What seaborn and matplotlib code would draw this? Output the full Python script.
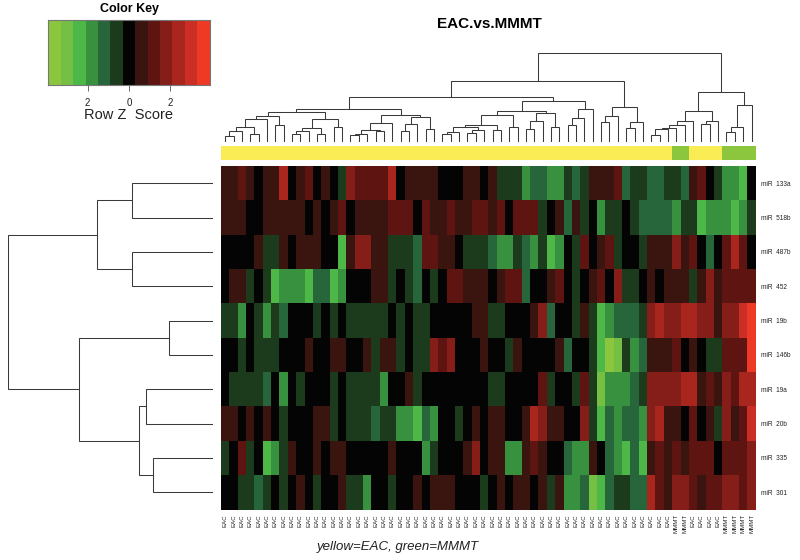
import matplotlib
matplotlib.use('Agg')
import matplotlib.pyplot as plt
from matplotlib.colors import ListedColormap
import numpy as np
import pandas as pd
import seaborn as sns

mirnas = ['miR  133a', 'miR  518b', 'miR  487b', 'miR  452', 'miR  19b',
          'miR  146b', 'miR  19a', 'miR  20b', 'miR  335', 'miR  301']

# colour level of each cell, -6 (light green) .. 6 (bright red)
miR_133a = [1,1,2,1,0,1,1,4,0,1,2,0,1,0,-1,3,2,2,2,2,4,0,1,1,1,1,0,0,0,1,1,0,
            1,-1,-1,-1,-3,-2,-2,-3,-3,-1,-2,-1,1,1,1,2,-2,-1,-1,-2,-2,-1,-1,-2,1,2,0,-1,-3,-3,-4,0]
miR_518b = [1,1,1,0,0,1,1,1,1,1,0,1,0,1,2,0,1,1,1,1,2,2,2,0,2,1,1,2,1,1,2,2,
            1,2,0,2,2,2,-1,0,1,-2,1,-1,0,-3,-1,-1,0,-1,-2,-2,-2,-2,-3,-1,-1,-4,-3,-3,-3,-4,-3,-1]
miR_487b = [0,0,0,0,1,-1,-1,1,0,1,1,1,0,0,-4,1,3,3,1,1,-1,-1,-1,-2,2,2,1,1,0,-1,-1,-1,
            -2,-3,-3,-1,-2,-3,-1,-4,-3,0,-1,2,0,1,2,-1,0,0,-1,1,1,1,3,1,2,0,-2,0,2,4,2,0]
miR_452 = [0,1,1,-1,0,-1,-4,-3,-3,-3,-4,-2,-2,-4,-3,0,0,0,1,1,-1,0,-1,-2,0,-1,0,2,2,1,1,1,
           0,1,2,2,-2,0,0,1,2,0,-1,0,1,2,0,3,-1,-1,0,1,0,1,1,1,-1,1,3,1,2,2,2,2]
miR_19b = [-1,-1,-3,0,-1,-3,-1,-2,0,0,0,-1,0,-1,0,-1,-1,-1,-1,-1,0,-1,0,-1,-1,0,0,0,0,0,1,1,
           -1,-1,0,0,0,1,3,-2,0,0,-1,1,-1,-4,-3,-2,-2,-2,-1,3,4,3,3,4,4,3,3,1,3,3,5,6]
miR_146b = [0,0,-1,0,-1,-1,-1,0,0,0,1,0,0,1,1,0,0,1,-1,1,1,-1,0,-1,-1,3,2,3,0,0,0,1,
            0,0,-1,1,0,0,0,0,1,-2,0,0,-1,-4,-6,-5,-1,-3,-2,1,1,1,2,0,1,0,-1,-1,2,2,2,6]
miR_19a = [0,-1,-1,-1,-1,-2,0,-3,0,-1,0,0,0,-1,0,-1,-1,-1,-1,-3,0,0,1,-1,0,0,0,0,0,0,0,0,
           -1,-1,0,0,0,0,2,-1,0,0,-1,2,-1,-5,-3,-3,-3,-2,-1,3,3,3,3,4,4,1,2,1,3,2,4,4]
miR_20b = [1,1,0,1,0,1,0,-1,0,0,0,1,1,-1,0,-1,-1,-1,-2,-1,-1,-3,-3,-4,-2,-3,0,0,-1,0,1,0,
           1,1,0,0,1,4,3,1,1,0,0,3,-1,-4,-2,-3,-2,-2,-3,3,4,1,1,0,2,0,1,-1,3,1,2,5]
miR_335 = [-1,0,2,-1,0,-4,-3,-1,1,0,0,1,0,1,1,0,0,0,0,0,1,0,0,0,-3,-1,0,0,0,1,3,0,
           1,1,-3,-3,1,2,1,0,0,-2,-3,-3,1,0,-2,-3,-4,-2,-4,1,2,1,2,1,2,2,2,0,2,2,2,3]
miR_301 = [0,0,-1,-1,-2,-1,0,-1,0,1,0,-1,0,0,1,-1,-1,-3,0,0,-1,0,0,1,0,1,1,1,0,0,0,-1,
           0,1,0,1,1,0,1,-1,1,-3,-3,-2,-5,-4,-2,-1,-1,-2,-2,4,2,1,3,3,2,1,2,2,3,3,2,3]

# sample labels, 1 = MMMT, 0 = EAC
sample_group = [0]*54 + [1]*2 + [0]*4 + [1]*4
group_names = ['EAC', 'MMMT']

key_colors = ['#8CC63F', '#75C044', '#4DB748', '#38913F', '#27663A', '#1C3A1C', '#040404',
              '#3A1510', '#5E1512', '#851D18', '#A9261F', '#CB2E25', '#EE3A24']
bar_colors = ['#F9EC55', '#8CC63F']
key_z = [-3.6, -3.0, -2.4, -1.8, -1.2, -0.6, 0.0, 0.6, 1.2, 1.8, 2.4, 3.0, 3.6]
key_ticks = [-2, 0, 2]

# dendrograms as (merge height, left child, right child), 0 is a leaf
col_a = (26, (23, (15, (11, (6, 0, 0), 0), (8.7, 0, 0)), 0), (17, 0, 0))
col_b = (23, (14, (11, (8.7, 0, 0), 0), (8.7, 0, 0)), (15.7, 0, 0))
col_c = (19, (12, (8.7, (7, 0, 0), 0), (11, 0, 0)), 0)
col_d = (25, (18.7, (11, 0, 0), 0), (13.7, 0, 0))
col_e = (15.7, (10.7, (8.7, 0, 0), 0), (12.7, (9.7, 0, 0), 0))
col_f = (27, (17.7, col_e, (12, 0, 0)), (15, 0, 0))
col_g = (29, (21, (13, 0, 0), 0), (15.7, 0, 0))
col_h = (33, (24, (17, 0, 0), 0), 0)
col_i = (35.7, (26.7, (20, 0, 0), 0), (20.3, (14.7, 0, 0), 0))
col_j = (21.3, (17.3, (14.7, (13, (7.3, 0, 0), 0), 0), 0), 0)
col_k = (21.7, (18.7, 0, 0), 0)
col_l = (37, (15.3, (10.7, 0, 0), 0), 0)
col_left = (61, (45, (33, (30.7, col_a, col_b), (27, col_c, col_d)),
                 (41, (31, col_f, col_g), col_h)), col_i)
col_tree = (89, col_left, (50, (31, col_j, col_k), col_l))
row_tree = (205, (116, (81, 0, 0), (81.7, 0, 0)),
            (134.7, (44, 0, 0), (74.3, (67.7, 0, 0), (60, 0, 0))))

df = pd.DataFrame([miR_133a, miR_518b, miR_487b, miR_452, miR_19b,
                   miR_146b, miR_19a, miR_20b, miR_335, miR_301], index=mirnas)

sns.set_theme(style='white')
plt.rcParams['font.family'] = ['Liberation Sans', 'DejaVu Sans']
plt.rcParams['text.color'] = 'black'

W, H = 800, 560
fig = plt.figure(figsize=(8, 5.6), dpi=100)


def px_axes(x0, y0, x1, y1):
    # axes from pixel box, y measured from the top
    return fig.add_axes([x0 / W, 1 - y1 / H, (x1 - x0) / W, (y1 - y0) / H])


def draw_tree(ax, node, next_leaf, horizontal):
    if node == 0:
        next_leaf[0] += 1
        return next_leaf[0] - 0.5, 0
    h, left, right = node
    p1, h1 = draw_tree(ax, left, next_leaf, horizontal)
    p2, h2 = draw_tree(ax, right, next_leaf, horizontal)
    ps, hs = [p1, p1, p2, p2], [h1, h, h, h2]
    if horizontal:
        ax.plot(hs, ps, color='#3a3a3a', lw=0.75, solid_joinstyle='miter')
    else:
        ax.plot(ps, hs, color='#3a3a3a', lw=0.75, solid_joinstyle='miter')
    return (p1 + p2) / 2, h


# main heatmap
ax = px_axes(221, 166, 755.7, 509.5)
labels = [group_names[g] for g in sample_group]
sns.heatmap(df, ax=ax, cmap=ListedColormap(key_colors), vmin=-6, vmax=6, cbar=False,
            xticklabels=labels, yticklabels=mirnas)
ax.yaxis.tick_right()
ax.tick_params(axis='y', length=0, pad=3.5, labelsize=4.7, labelrotation=0, labelcolor='#222222')
ax.tick_params(axis='x', length=0, pad=3.5, labelsize=4.4, labelrotation=90, labelcolor='#222222')

# sample colour bar
ax_bar = px_axes(221, 145.7, 755.7, 160)
sns.heatmap(np.array([sample_group]), ax=ax_bar, cmap=ListedColormap(bar_colors),
            vmin=0, vmax=1, cbar=False, xticklabels=False, yticklabels=False)

# column dendrogram
ax_top = px_axes(221, 52, 755.7, 142.3)
draw_tree(ax_top, col_tree, [0], False)
ax_top.set_xlim(0, df.shape[1])
ax_top.set_ylim(0, 90.3)
ax_top.axis('off')

# row dendrogram
ax_left = px_axes(8, 166, 213.3, 509.5)
draw_tree(ax_left, row_tree, [0], True)
ax_left.set_xlim(205.3, 0)
ax_left.set_ylim(df.shape[0], 0)
ax_left.axis('off')

# colour key
ax_key = px_axes(48.3, 20, 209.7, 85.3)
sns.heatmap(np.array([key_z]) / 0.6, ax=ax_key, cmap=ListedColormap(key_colors),
            vmin=-6, vmax=6, cbar=False, yticklabels=False)
ax_key.set_xticks([6.5 + z / 0.6 for z in key_ticks])
ax_key.set_xticklabels([str(abs(z)) for z in key_ticks], fontsize=7, rotation=0, color='#222222')
ax_key.tick_params(axis='x', length=4.5, width=0.6, color='#555555', pad=4.5, bottom=True)
for s in ax_key.spines.values():
    s.set_visible(True)
    s.set_color('#777777')
    s.set_linewidth(0.8)
ax_key.set_xlabel('Row Z  Score', fontsize=10.5, labelpad=0, color='#222222')
ax_key.set_title('Color Key', fontsize=9, fontweight='bold', pad=5.5)

fig.text(489 / W, 1 - 24 / H, 'EAC.vs.MMMT', fontsize=11, fontweight='bold',
         ha='center', va='center')
fig.text(317 / W, 1 - 547 / H, 'yellow=EAC, green=MMMT', fontsize=9.5, style='italic',
         ha='left', va='center', color='#222222')

fig.savefig('out.png', dpi=100)
